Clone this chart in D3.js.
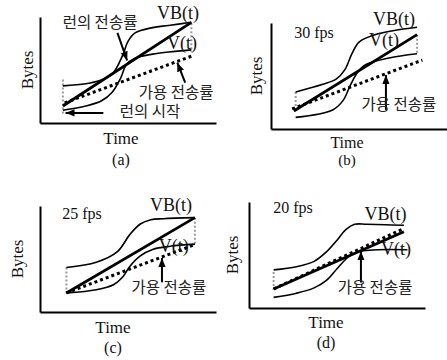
<!DOCTYPE html>
<html>
<head>
<meta charset="utf-8">
<script src="https://cdn.jsdelivr.net/npm/d3@7"></script>
<style>
body { margin: 0; background: #fff; }
svg text { font-family: "Liberation Serif", "DejaVu Serif", serif; fill: #111; }
svg text.kr { font-family: "Noto Sans CJK KR", sans-serif; fill: #222; }
.axis path { stroke: #000; stroke-width: 2; }
</style>
</head>
<body>
<svg id="chart" width="447" height="360"></svg>
<script>
// values, units: time 0-10 along x, bytes 0-10 along y

// (a)
var vbA    = [[1.3,3.5],[2.6,3.7],[3.4,4.0],[4.1,4.6],[4.7,6.4],[5.0,7.7],[5.4,8.5],[6.4,9.0],[7.3,9.2],[8.6,9.5]];
var vA     = [[1.3,1.2],[2.6,1.6],[3.5,2.1],[4.1,2.9],[4.6,4.3],[4.9,5.5],[5.4,6.1],[6.4,6.5],[7.3,6.7],[8.6,6.9]];
var runA   = [[1.3,1.6],[8.6,9.5]];
var availA = [[1.4,1.9],[8.6,6.3]];
var gapA   = [[1.3,4.1,0.7],[8.6,9.4,6.7]];

// (b) 30 fps
var vbB    = [[1.4,3.5],[2.9,4.2],[3.7,4.7],[4.2,5.6],[4.6,7.1],[5.0,8.2],[5.9,8.9],[7.0,9.3],[8.3,9.6]];
var vB     = [[1.4,1.1],[3.5,1.8],[4.1,2.7],[4.5,4.1],[4.9,5.3],[5.3,6.0],[6.7,6.7],[8.3,7.1]];
var runB   = [[1.3,1.7],[8.3,8.9]];
var availB = [[1.2,1.9],[8.6,6.5]];
var gapB   = [[1.4,3.5,1.6],[8.3,8.9,7.2]];

// (c) 25 fps
var vbC    = [[1.5,4.2],[3.2,4.7],[4.4,5.7],[5.1,7.3],[5.7,8.3],[6.3,8.7],[7.0,8.8],[8.8,8.9]];
var vC     = [[1.5,1.8],[3.2,2.1],[4.2,2.6],[4.7,3.3],[5.1,4.3],[5.7,5.3],[6.4,5.9],[7.4,6.2],[8.8,6.4]];
var runC   = [[1.5,1.8],[8.8,8.9]];
var availC = [[1.5,1.8],[8.7,6.3]];
var gapC   = [[1.5,4.2,1.8],[8.8,8.9,6.3]];

// (d) 20 fps
var vbD    = [[1.4,3.6],[2.7,3.9],[3.7,4.4],[4.4,5.3],[5.0,6.4],[5.5,7.4],[6.0,7.9],[6.7,7.9],[8.8,7.8]];
var vD     = [[1.4,1.0],[2.7,1.4],[3.7,1.9],[4.4,2.6],[5.0,3.7],[5.5,4.6],[6.0,5.2],[6.5,5.4],[7.3,5.5],[9.0,5.5]];
var runD   = [[1.4,1.8],[8.8,7.2]];
var availD = [[1.4,1.8],[8.8,7.5]];
var gapD   = [[1.4,3.4,1.7]];

var panelTags = ["(a)", "(b)", "(c)", "(d)"];
var fpsTags   = ["", "30 fps", "25 fps", "20 fps"];

// annotation anchors (same units) : [text, t, b, kind]
var notesA = [["VB(t)",7.84,10.45,"v"],["V(t)",8.07,7.55,"v"],["런의 전송률",3.41,9.43,"k"],["가용 전송률",7.73,2.83,"k"],["런의 시작",6.25,1.04,"k"]];
var notesB = [["VB(t)",6.99,10.45,"v"],["V(t)",6.42,8.4,"v"],["가용 전송률",7.27,2.26,"k"],[fpsTags[1],2.44,9.15,"f"]];
var notesC = [["VB(t)",7.44,10.1,"v"],["V(t)",7.6,6.3,"v"],["가용 전송률",7.33,2.26,"k"],[fpsTags[2],2.39,9.34,"f"]];
var notesD = [["VB(t)",7.76,8.87,"v"],["V(t)",8.35,5.57,"v"],["가용 전송률",7.16,1.89,"k"],[fpsTags[3],2.5,9.53,"f"]];

var arrowsA = [[[4.4,8.5],[4.95,5.9]], [[8.25,3.8],[7.8,5.7]], [[3.6,0.95],[1.45,0.95]]];
var arrowsB = [[[6.53,1.8],[6.53,5.1]]];
var arrowsC = [[[6.93,2.8],[6.93,5.1]]];
var arrowsD = [[[6.36,2.4],[6.36,5.35]]];

// panel placement (pixels): axis origin, label offsets
var panels = [
    {ox: 40,  oy: 123, bytesDx: -13, timeDx: -7,  timeDy: 15, tagDy: 37, vb: vbA, v: vA, run: runA, avail: availA, gap: gapA, notes: notesA, arrows: arrowsA},
    {ox: 271, oy: 129, bytesDx: -15, timeDx: -12, timeDy: 13, tagDy: 31, vb: vbB, v: vB, run: runB, avail: availB, gap: gapB, notes: notesB, arrows: arrowsB},
    {ox: 40,  oy: 312, bytesDx: -23, timeDx: -15, timeDy: 15, tagDy: 36, vb: vbC, v: vC, run: runC, avail: availC, gap: gapC, notes: notesC, arrows: arrowsC},
    {ox: 249, oy: 308, bytesDx: -17, timeDx: -11, timeDy: 14, tagDy: 35, vb: vbD, v: vD, run: runD, avail: availD, gap: gapD, notes: notesD, arrows: arrowsD}
];
var boxW = 176, boxH = 106;

var svg = d3.select("#chart");

svg.append("defs").append("marker")
    .attr("id", "head")
    .attr("markerUnits", "userSpaceOnUse")
    .attr("viewBox", "0 0 10 8")
    .attr("refX", 10).attr("refY", 4)
    .attr("markerWidth", 9).attr("markerHeight", 8)
    .attr("orient", "auto")
    .append("path")
    .attr("d", "M0,0L10,4L0,8Z")
    .attr("fill", "#000");

panels.forEach(function(p, i) {
    var x = d3.scaleLinear().domain([0, 10]).range([p.ox, p.ox + boxW]);
    var y = d3.scaleLinear().domain([0, 10]).range([p.oy, p.oy - boxH]);
    var g = svg.append("g");

    var smooth = d3.line()
        .x(function(d) { return x(d[0]); })
        .y(function(d) { return y(d[1]); })
        .curve(d3.curveCatmullRom.alpha(0.5));
    var straight = d3.line()
        .x(function(d) { return x(d[0]); })
        .y(function(d) { return y(d[1]); });

    // Axes (domain lines only)
    g.append("g").attr("class", "axis")
        .attr("transform", "translate(0," + p.oy + ")")
        .call(d3.axisBottom(x).ticks(0).tickSizeOuter(0));
    g.append("g").attr("class", "axis")
        .attr("transform", "translate(" + p.ox + ",0)")
        .call(d3.axisLeft(y).ticks(0).tickSizeOuter(0));

    // gray range marks
    g.selectAll(".gap").data(p.gap).enter().append("line")
        .attr("x1", function(d) { return x(d[0]); })
        .attr("x2", function(d) { return x(d[0]); })
        .attr("y1", function(d) { return y(d[1]); })
        .attr("y2", function(d) { return y(d[2]); })
        .attr("stroke", "#9a9a9a")
        .attr("stroke-width", 2)
        .attr("stroke-dasharray", "2,2");

    // available rate (dotted)
    g.append("path").datum(p.avail)
        .attr("d", straight)
        .attr("fill", "none")
        .attr("stroke", "#000")
        .attr("stroke-width", 3)
        .attr("stroke-dasharray", "3,3");

    [p.vb, p.v].forEach(function(c) {
        g.append("path").datum(c)
            .attr("d", smooth)
            .attr("fill", "none")
            .attr("stroke", "#000")
            .attr("stroke-width", 1.6);
    });

    // run rate (thick)
    g.append("path").datum(p.run)
        .attr("d", straight)
        .attr("fill", "none")
        .attr("stroke", "#000")
        .attr("stroke-width", 2.8);

    g.selectAll(".arrow").data(p.arrows).enter().append("line")
        .attr("x1", function(d) { return x(d[0][0]); })
        .attr("y1", function(d) { return y(d[0][1]); })
        .attr("x2", function(d) { return x(d[1][0]); })
        .attr("y2", function(d) { return y(d[1][1]); })
        .attr("stroke", "#000")
        .attr("stroke-width", 2)
        .attr("marker-end", "url(#head)");

    g.selectAll(".note").data(p.notes).enter().append("text")
        .attr("class", function(d) { return d[3] == "k" ? "kr" : null; })
        .attr("x", function(d) { return x(d[1]); })
        .attr("y", function(d) { return y(d[2]); })
        .attr("dy", "0.35em")
        .attr("text-anchor", "middle")
        .style("font-size", function(d) { return d[3] == "k" ? "15.5px" : d[3] == "f" ? "16px" : "18px"; })
        .text(function(d) { return d[0]; });

    // titles
    g.append("text")
        .attr("transform", "translate(" + (p.ox + p.bytesDx) + "," + (p.oy - boxH / 2) + ") rotate(-90)")
        .attr("dy", "0.35em")
        .attr("text-anchor", "middle")
        .style("font-size", "17px")
        .text("Bytes");
    g.append("text")
        .attr("x", p.ox + boxW / 2 + p.timeDx)
        .attr("y", p.oy + p.timeDy)
        .attr("dy", "0.35em")
        .attr("text-anchor", "middle")
        .style("font-size", i == 1 ? "16px" : "17px")
        .text("Time");
    g.append("text")
        .attr("x", p.ox + boxW / 2 + p.timeDx)
        .attr("y", p.oy + p.tagDy)
        .attr("dy", "0.3em")
        .attr("text-anchor", "middle")
        .style("font-size", i == 1 ? "15px" : "16px")
        .text(panelTags[i]);
});
</script>
</body>
</html>
